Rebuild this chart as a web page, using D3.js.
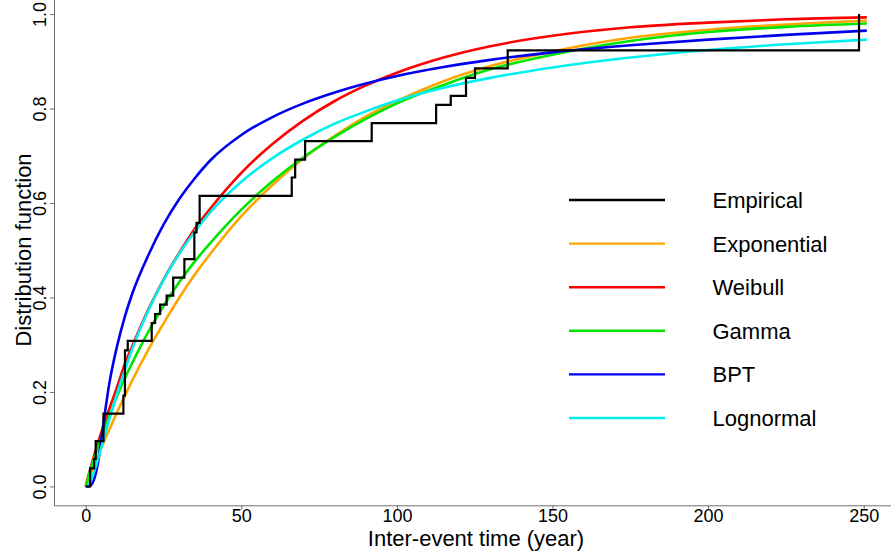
<!DOCTYPE html>
<html>
<head>
<meta charset="utf-8">
<script src="https://cdn.jsdelivr.net/npm/d3@7"></script>
<style>
  html, body { margin: 0; padding: 0; background: #fff; }
  svg { display: block; font-family: "Liberation Sans", Arial, sans-serif; }
</style>
</head>
<body>
<div id="chart"></div>
<script>
// inter-event time (years) at which the fitted curves were read
const curveX = [0, 1, 2.5, 4, 5, 6, 7.5, 10, 12.5, 15, 20, 25, 30, 35, 40, 50, 60, 70, 80, 90, 100, 115, 130, 150, 175, 200, 225, 251];

const expF   = [0, 0.017, 0.042, 0.066, 0.081, 0.097, 0.119, 0.156, 0.191, 0.225, 0.288, 0.345, 0.399, 0.448, 0.492, 0.572, 0.638, 0.695, 0.742, 0.783, 0.816, 0.858, 0.890, 0.921, 0.950, 0.967, 0.978, 0.986];
const weibF  = [0, 0.026, 0.061, 0.094, 0.114, 0.134, 0.163, 0.209, 0.258, 0.298, 0.373, 0.438, 0.494, 0.545, 0.588, 0.664, 0.725, 0.775, 0.816, 0.849, 0.876, 0.908, 0.932, 0.954, 0.972, 0.982, 0.989, 0.993];
const gammaF = [0, 0.024, 0.055, 0.084, 0.102, 0.120, 0.147, 0.190, 0.228, 0.262, 0.326, 0.382, 0.432, 0.476, 0.515, 0.586, 0.646, 0.697, 0.740, 0.778, 0.811, 0.850, 0.883, 0.914, 0.943, 0.962, 0.973, 0.980];
const bptF   = [0, 0.000, 0.012, 0.052, 0.100, 0.148, 0.215, 0.295, 0.358, 0.409, 0.488, 0.554, 0.608, 0.652, 0.690, 0.744, 0.782, 0.811, 0.834, 0.853, 0.869, 0.888, 0.903, 0.919, 0.934, 0.946, 0.956, 0.965];
const lognF  = [0, 0.004, 0.027, 0.059, 0.082, 0.106, 0.140, 0.195, 0.245, 0.292, 0.371, 0.437, 0.492, 0.539, 0.580, 0.645, 0.695, 0.735, 0.768, 0.794, 0.817, 0.844, 0.865, 0.887, 0.908, 0.924, 0.936, 0.946];

// empirical distribution: jump positions and value after each jump
const stepX = [0, 1.4, 2.7, 3.2, 5.7, 12.1, 12.6, 13.5, 21.2, 22.3, 23.9, 26.0, 28.1, 31.7, 34.9, 35.6, 36.6, 66.2, 67.3, 70.5, 91.9, 112.6, 117.3, 122.2, 125.1, 135.6, 248.5];
const stepF = [0, 0.038, 0.058, 0.096, 0.154, 0.192, 0.288, 0.308, 0.346, 0.365, 0.385, 0.404, 0.442, 0.481, 0.538, 0.558, 0.615, 0.654, 0.692, 0.731, 0.769, 0.808, 0.827, 0.865, 0.885, 0.923, 1.0];

const xTicks = [0, 50, 100, 150, 200, 250];
const yTicks = [0, 0.2, 0.4, 0.6, 0.8, 1.0];
const legendNames = ['Empirical', 'Exponential', 'Weibull', 'Gamma', 'BPT', 'Lognormal'];
const colors = ['#000000', '#ffa500', '#ff0000', '#00e600', '#0000ee', '#00f0f0'];

const width = 891, height = 551;

const svg = d3.select('#chart')
    .append('svg')
    .attr('width', width)
    .attr('height', height);

const x = d3.scaleLinear().domain([-10.2, 265.2]).range([54, 911]);
const y = d3.scaleLinear().domain([-0.04, 1.04]).range([505.3, -4.8]);

// axes
let gx = svg.append('g')
    .attr('transform', 'translate(0,505.3)')
    .call(d3.axisBottom(x).tickValues(xTicks).tickSize(4).tickSizeOuter(0).tickFormat(d3.format('d')));
gx.attr('font-size', null).attr('font-family', null);
gx.selectAll('.domain, .tick line').attr('stroke', '#6e6e6e');
gx.selectAll('.tick text')
    .attr('y', 16.5)
    .attr('dy', null)
    .attr('font-size', 18)
    .attr('fill', '#000');

let gy = svg.append('g')
    .attr('transform', 'translate(54,0)')
    .call(d3.axisLeft(y).tickValues(yTicks).tickSize(4).tickSizeOuter(0).tickFormat(d3.format('.1f')));
gy.attr('font-size', null).attr('font-family', null);
gy.selectAll('.domain, .tick line').attr('stroke', '#6e6e6e');
gy.selectAll('.tick text')
    .attr('transform', 'rotate(-90)')
    .attr('x', 0)
    .attr('y', -8.5)
    .attr('dy', null)
    .attr('text-anchor', 'middle')
    .attr('font-size', 18)
    .attr('fill', '#000');

// fitted curves
const fitted = [expF, weibF, gammaF, bptF, lognF];
const line = d3.line()
    .x((d, i) => x(curveX[i]))
    .y(d => y(d))
    .curve(d3.curveMonotoneX);

fitted.forEach(function(vals, k) {
    svg.append('path')
        .datum(vals)
        .attr('d', line)
        .attr('fill', 'none')
        .attr('stroke', colors[k + 1])
        .attr('stroke-width', 2.6);
});

// empirical step function on top
const stepLine = d3.line()
    .x((d, i) => x(stepX[i]))
    .y(d => y(d))
    .curve(d3.curveStepAfter);

svg.append('path')
    .datum(stepF)
    .attr('d', stepLine)
    .attr('fill', 'none')
    .attr('stroke', colors[0])
    .attr('stroke-width', 2.2);

// axis titles
svg.append('text')
    .attr('x', 476)
    .attr('y', 546)
    .attr('text-anchor', 'middle')
    .attr('font-size', 22)
    .text('Inter-event time (year)');

svg.append('text')
    .attr('transform', 'translate(30.5,250) rotate(-90)')
    .attr('text-anchor', 'middle')
    .attr('font-size', 22)
    .text('Distribution function');

// legend
let legend = svg.append('g');
legendNames.forEach(function(name, i) {
    let ly = 200 + i * 43.6;
    legend.append('line')
        .attr('x1', 569).attr('x2', 665)
        .attr('y1', ly).attr('y2', ly)
        .attr('stroke', colors[i])
        .attr('stroke-width', 2.4);
    legend.append('text')
        .attr('x', 712.5)
        .attr('y', ly + 8)
        .attr('font-size', 22)
        .text(name);
});
</script>
</body>
</html>
